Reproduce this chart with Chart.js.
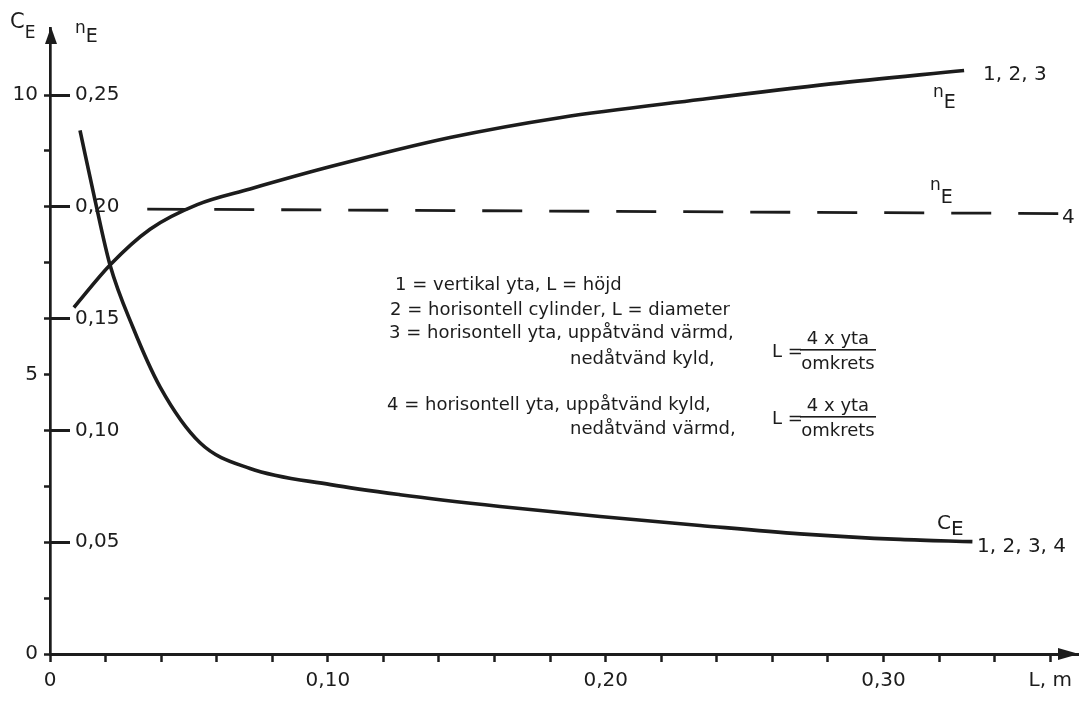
<!DOCTYPE html>
<html lang="sv">
<head>
<meta charset="UTF-8">
<title>C_E och n_E som funktion av L</title>
<script src="https://cdn.jsdelivr.net/npm/chart.js"></script>
<style>
  html, body { margin: 0; padding: 0; background: #fff; }
  #wrap { width: 1084px; height: 704px; position: relative; }
</style>
</head>
<body>
<div id="wrap"><canvas id="chart"></canvas></div>
<script>
// L, m  ->  C_E (kurva 1, 2, 3, 4)
const lengthC = [0.0108, 0.0162, 0.0216, 0.0298, 0.0396, 0.054, 0.072, 0.101, 0.126, 0.162, 0.198, 0.234, 0.270, 0.306, 0.332];
const cE      = [9.37,   8.12,   6.96,   5.85,   4.78,   3.78,  3.32,  3.03,  2.85,  2.64,  2.46,  2.30,  2.15,  2.05,  2.01];

// L, m  ->  n_E (kurva 1, 2, 3)
const lengthN = [0.0086, 0.0216, 0.036, 0.053, 0.072, 0.101, 0.144, 0.184, 0.234, 0.281, 0.329];
const nE      = [0.155,  0.174,  0.190, 0.201, 0.208, 0.218, 0.231, 0.240, 0.248, 0.255, 0.261];

// n_E (kurva 4), streckad
const lengthDash = [0.035, 0.364];
const nDash      = [0.199, 0.197];

// axlar
const xTicks = [0, 0.02, 0.04, 0.06, 0.08, 0.10, 0.12, 0.14, 0.16, 0.18, 0.20, 0.22, 0.24, 0.26, 0.28, 0.30, 0.32, 0.34, 0.36];
const xTickLabels = { 0: '0', 10: '0,10', 20: '0,20', 30: '0,30', 36: 'L, m' };
const cTicks = [0, 1, 2, 3, 4, 5, 6, 7, 8, 9, 10];
const cTickLabels = { 0: '0', 5: '5', 10: '10' };
const nTicks = [0.05, 0.10, 0.15, 0.20, 0.25];

const legendLines = [
  '1 = vertikal yta, L = höjd',
  '2 = horisontell cylinder, L = diameter',
  '3 = horisontell yta, uppåtvänd värmd,',
  'nedåtvänd kyld,',
  '4 = horisontell yta, uppåtvänd kyld,',
  'nedåtvänd värmd,'
];

const ink = '#1c1c1c';
const family = '"DejaVu Sans", "Liberation Sans", sans-serif';
const tickFont = { family: family, size: 20 };

function txt(ctx, s, x, y, size, align) {
  ctx.font = size + 'px ' + family;
  ctx.textAlign = align || 'left';
  ctx.fillText(s, x, y);
}

// symbol med nedsänkt index, t.ex. C_E och n_E
function sym(ctx, base, sub, x, y, size1, size2, drop) {
  ctx.font = size1 + 'px ' + family;
  ctx.textAlign = 'left';
  ctx.fillText(base, x, y);
  const w = ctx.measureText(base).width;
  ctx.font = size2 + 'px ' + family;
  ctx.fillText(sub, x + w, y + drop);
}

function fraction(ctx, x, y) {
  txt(ctx, 'L =', x, y, 18);
  txt(ctx, '4 x yta', x + 66, y - 13, 18, 'center');
  txt(ctx, 'omkrets', x + 66, y + 12, 18, 'center');
  ctx.fillRect(x + 28, y - 8, 76, 1.6);
}

const annotations = {
  id: 'annotations',
  afterDraw(chart) {
    const { ctx, chartArea: a } = chart;
    ctx.save();
    ctx.fillStyle = ink;
    ctx.textBaseline = 'alphabetic';

    // pilar
    ctx.beginPath();
    ctx.moveTo(a.left + 1, a.top - 1);
    ctx.lineTo(a.left - 5, a.top + 16);
    ctx.lineTo(a.left + 7, a.top + 16);
    ctx.closePath();
    ctx.fill();
    ctx.beginPath();
    ctx.moveTo(a.right + 1, a.bottom);
    ctx.lineTo(a.right - 20, a.bottom - 6);
    ctx.lineTo(a.right - 20, a.bottom + 6);
    ctx.closePath();
    ctx.fill();

    // axelbeteckningar
    sym(ctx, 'C', 'E', 10, 28, 21, 17, 10);
    sym(ctx, 'n', 'E', 75, 33, 17, 19, 9);

    // kurvbeteckningar
    sym(ctx, 'n', 'E', 933, 97, 17, 19, 11);
    txt(ctx, '1, 2, 3', 983, 80, 20);
    sym(ctx, 'n', 'E', 930, 190, 17, 19, 13);
    txt(ctx, '4', 1062, 223, 20);
    sym(ctx, 'C', 'E', 937, 529, 20, 20, 6);
    txt(ctx, '1, 2, 3, 4', 977, 552, 20);

    // förklaring
    const lx = [395, 390, 389, 570, 387, 570];
    const ly = [290, 315, 338, 364, 410, 434];
    legendLines.forEach((s, i) => txt(ctx, s, lx[i], ly[i], 18));
    fraction(ctx, 772, 357);
    fraction(ctx, 772, 424);

    ctx.restore();
  }
};

const toPoints = (xs, ys) => xs.map((x, i) => ({ x: x, y: ys[i] }));

new Chart(document.getElementById('chart'), {
  type: 'line',
  data: {
    datasets: [
      {
        label: 'C_E 1, 2, 3, 4',
        data: toPoints(lengthC, cE),
        yAxisID: 'yC',
        borderColor: ink,
        borderWidth: 3.6,
        cubicInterpolationMode: 'monotone'
      },
      {
        label: 'n_E 1, 2, 3',
        data: toPoints(lengthN, nE),
        yAxisID: 'yN',
        borderColor: ink,
        borderWidth: 3.6,
        cubicInterpolationMode: 'monotone'
      },
      {
        label: 'n_E 4',
        data: toPoints(lengthDash, nDash),
        yAxisID: 'yN',
        borderColor: ink,
        borderWidth: 2.8,
        borderDash: [40, 27]
      }
    ]
  },
  options: {
    responsive: true,
    maintainAspectRatio: false,
    animation: false,
    layout: { padding: { top: 28, right: 6, left: 0, bottom: 0 } },
    elements: { point: { radius: 0 } },
    plugins: { legend: { display: false }, tooltip: { enabled: false } },
    scales: {
      x: {
        type: 'linear',
        min: 0,
        max: 0.37,
        afterBuildTicks: s => { s.ticks = xTicks.map(v => ({ value: v })); },
        afterFit: s => { s.height = 50; },
        border: { color: ink, width: 3 },
        grid: { drawOnChartArea: false, tickLength: 8, tickWidth: 2.5, tickColor: ink },
        ticks: {
          autoSkip: false, maxRotation: 0, padding: 7, color: ink, font: tickFont,
          callback: v => xTickLabels[Math.round(v * 100)] ?? ''
        }
      },
      yC: {
        type: 'linear',
        position: 'left',
        weight: 1,
        min: 0,
        max: 11.2,
        afterBuildTicks: s => { s.ticks = cTicks.map(v => ({ value: v })); },
        afterFit: s => { s.width = 50; s.paddingTop = 0; },
        border: { color: ink, width: 2.7 },
        grid: { drawOnChartArea: false, tickLength: 6, tickWidth: 2.5, tickColor: ink },
        ticks: { padding: 6, color: ink, font: tickFont, callback: v => cTickLabels[v] ?? '' }
      },
      yN: {
        type: 'linear',
        position: 'left',
        weight: 0,
        min: 0,
        max: 0.28,
        afterBuildTicks: s => { s.ticks = nTicks.map(v => ({ value: v })); },
        // the mirrored labels sit inside the plot, so this axis takes no room
        afterFit: s => { s.width = 0; s.paddingTop = 0; s.paddingBottom = 0; },
        border: { display: false },
        grid: { drawOnChartArea: false, tickLength: -20, tickWidth: 3, tickColor: ink },
        ticks: {
          mirror: true, padding: 25, color: ink, font: tickFont,
          callback: v => v.toFixed(2).replace('.', ',')
        }
      }
    }
  },
  plugins: [annotations]
});
</script>
</body>
</html>
